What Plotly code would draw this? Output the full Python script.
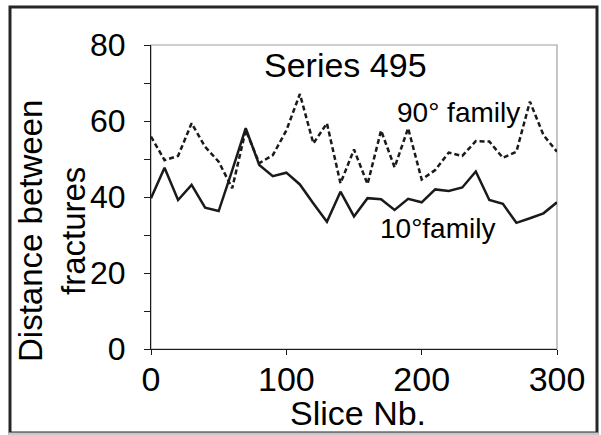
import plotly.graph_objects as go

slice_nb = [0, 10, 20, 30, 40, 50, 60, 70, 80, 90, 100, 110, 120, 130, 140, 150,
            160, 170, 180, 190, 200, 210, 220, 230, 240, 250, 260, 270, 280, 290, 300]
family_10 = [39.7, 47.7, 39.2, 43.2, 37.2, 36.3, 47.0, 58.1, 48.4, 45.5, 46.4, 43.3,
             38.3, 33.5, 41.4, 34.9, 39.7, 39.4, 36.6, 39.5, 38.6, 42.0, 41.6, 42.5,
             46.7, 39.2, 38.2, 33.2, 34.4, 35.7, 38.6]
family_90 = [55.9, 49.7, 50.8, 59.4, 53.2, 49.3, 42.3, 57.6, 48.9, 51.0, 57.5, 67.1,
             54.1, 59.4, 43.6, 52.5, 43.4, 57.5, 47.8, 58.1, 44.6, 47.1, 51.7, 50.8,
             54.7, 54.6, 50.3, 51.9, 65.1, 56.3, 51.9]
x_ticks = [0, 100, 200, 300]
y_ticks = [0, 20, 40, 60, 80]

FONT = "Liberation Sans, Arial, sans-serif"
INK = "#1a1a1a"

fig = go.Figure()
fig.add_trace(go.Scatter(x=slice_nb, y=family_90, mode="lines",
                         line=dict(color=INK, width=2.5, dash="5px,3px"),
                         showlegend=False, hoverinfo="skip"))
fig.add_trace(go.Scatter(x=slice_nb, y=family_10, mode="lines",
                         line=dict(color=INK, width=2.5),
                         showlegend=False, hoverinfo="skip"))

W, H = 601, 435
L, R, T, B = 151, 44, 45, 86
pw, ph = W - L - R, H - T - B

def px(xp):
    return (xp - L) / pw

def py(yp):
    return (H - B - yp) / ph

fig.update_layout(
    width=W, height=H,
    margin=dict(l=L, r=R, t=T, b=B, pad=0),
    paper_bgcolor="white", plot_bgcolor="white",
    font=dict(family=FONT, color="black"),
    xaxis=dict(range=[0, 300], tickvals=x_ticks, ticks="outside", ticklen=5,
               tickcolor=INK, showline=True, linecolor=INK, linewidth=1.2,
               showgrid=False, zeroline=False, tickfont=dict(size=34, family=FONT),
               ticklabelstandoff=-5),
    yaxis=dict(range=[0, 80], tickvals=y_ticks, ticks="outside", ticklen=6,
               tickcolor=INK, showline=True, linecolor=INK, linewidth=1.2,
               showgrid=False, zeroline=False, tickfont=dict(size=32, family=FONT),
               ticklabelstandoff=12,
               minor=dict(ticks="outside", dtick=10, ticklen=6, tickcolor=INK)),
    shapes=[
        dict(type="rect", xref="paper", yref="paper", x0=0, y0=0, x1=1, y1=1,
             line=dict(color="#a0a0a0", width=1.2), fillcolor="rgba(0,0,0,0)", layer="below"),
        dict(type="rect", xref="paper", yref="paper", x0=px(10), y0=py(433), x1=px(597), y1=py(7),
             line=dict(color="#262626", width=3), fillcolor="rgba(0,0,0,0)", layer="above"),
        dict(type="rect", xref="paper", yref="paper", x0=px(8.5), y0=py(435), x1=px(598.5), y1=py(432.5),
             line=dict(width=0), fillcolor="#c8c8c8", layer="above"),
    ],
    annotations=[
        dict(text="Series 495", x=px(345), y=py(65), xref="paper", yref="paper",
             showarrow=False, font=dict(size=34, family=FONT), xanchor="center", yanchor="middle"),
        dict(text="90° family", x=px(458), y=py(112), xref="paper", yref="paper",
             showarrow=False, font=dict(size=28, family=FONT), xanchor="center", yanchor="middle"),
        dict(text="10°family", x=px(437), y=py(228), xref="paper", yref="paper",
             showarrow=False, font=dict(size=28, family=FONT), xanchor="center", yanchor="middle"),
        dict(text="Distance between<br>fractures", x=px(52), y=py(231), xref="paper", yref="paper",
             showarrow=False, textangle=-90, font=dict(size=33, family=FONT),
             xanchor="center", yanchor="middle"),
        dict(text="Slice Nb.", x=px(358), y=py(413), xref="paper", yref="paper",
             showarrow=False, font=dict(size=34, family=FONT), xanchor="center", yanchor="middle"),
    ],
)

fig.write_html("out.html")
